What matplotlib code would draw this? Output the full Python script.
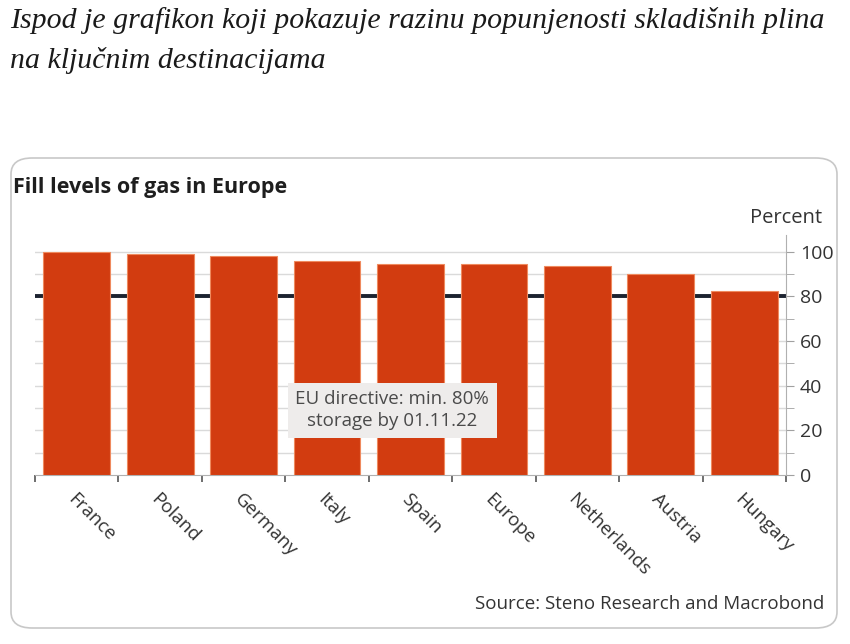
import matplotlib
matplotlib.use('Agg')
import matplotlib.pyplot as plt
from matplotlib.patches import FancyBboxPatch
import numpy as np

# data
countries = ['France', 'Poland', 'Germany', 'Italy', 'Spain', 'Europe',
             'Netherlands', 'Austria', 'Hungary']
fill_pct = [100.0, 99.2, 98.3, 95.8, 94.4, 94.4, 93.5, 90.0, 82.4]
target_pct = 80
y_ticks = [0, 20, 40, 60, 80, 100]

intro_lines = ["Ispod je grafikon koji pokazuje razinu popunjenosti skladišnih plina",
               "na ključnim destinacijama"]

plt.rcParams['font.family'] = ['Open Sans', 'DejaVu Sans']

W, H = 850, 644
fig = plt.figure(figsize=(W / 100, H / 100), dpi=100)

# intro text above the card, one baseline per line
for i, line in enumerate(intro_lines):
    fig.text(10 / W, 1 - (28 + 40 * i) / H, line, family='Liberation Serif',
             style='italic', fontsize=21.5, color='#1a1a1a', va='baseline',
             ha='left')

# rounded card
card = FancyBboxPatch((11 / W, 1 - 628 / H), 826 / W, 470 / H,
                      boxstyle='round,pad=0,rounding_size=0.025',
                      transform=fig.transFigure, facecolor='white',
                      edgecolor='#c8c8c8', linewidth=1.2, zorder=-5)
fig.patches.append(card)

fig.text(13 / W, 1 - 187 / H, 'Fill levels of gas in Europe', fontsize=15.5,
         fontweight='bold', color='#1e1e1e', va='center', ha='left')
fig.text(822 / W, 1 - 218 / H, 'Percent', fontsize=14.5, color='#333333',
         va='center', ha='right')
fig.text(824 / W, 1 - 604 / H, 'Source: Steno Research and Macrobond',
         fontsize=13.5, color='#333333', va='center', ha='right')

ax = fig.add_axes([35 / W, 1 - 475 / H, 751 / W, 240 / H])
ax.set_zorder(2)
ax.set_facecolor('none')
x = np.arange(len(countries))

for yv in range(10, 101, 10):
    ax.axhline(yv, color='#dadada', linewidth=1, zorder=1)
ax.axhline(target_pct, color='#1c2330', linewidth=2.8, zorder=2)

ax.bar(x, fill_pct, width=0.8, color='#d23c10', edgecolor='#ef8a5e',
       linewidth=0.8, zorder=3)

ax.text(3.78, 29, 'EU directive: min. 80%\nstorage by 01.11.22', fontsize=13.5,
        color='#4a4a4a', ha='center', va='center', linespacing=1.3, zorder=5,
        bbox=dict(boxstyle='square,pad=0.4', facecolor='#eeeceb',
                  edgecolor='none'))

ax.set_xlim(-0.5, len(countries) - 0.5)
ax.set_ylim(0, 107.5)

ax.yaxis.tick_right()
ax.set_yticks(y_ticks)
ax.set_yticks(range(10, 101, 20), minor=True)
ax.tick_params(axis='y', which='both', length=6, color='#a0a0a0',
               labelsize=14, labelcolor='#333333', pad=4)

ax.set_xticks(x)
ax.set_xticklabels(countries, rotation=-45, ha='left', va='top',
                   rotation_mode='anchor', fontsize=13.5, color='#333333')
ax.set_xticks(np.arange(-0.5, len(countries), 1), minor=True)
ax.tick_params(axis='x', which='major', length=0, pad=11)
ax.tick_params(axis='x', which='minor', length=5, color='#555555', width=1.2)

for s in ['top', 'left']:
    ax.spines[s].set_visible(False)
ax.spines['right'].set_color('#b0b0b0')
ax.spines['bottom'].set_color('#b0b0b0')

plt.savefig('out.png', dpi=100)
